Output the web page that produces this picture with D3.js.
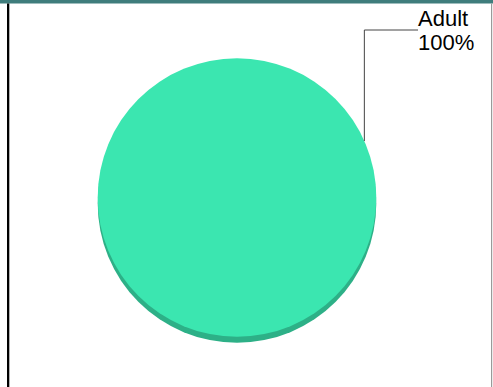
<!DOCTYPE html>
<html>
<head>
<meta charset="utf-8">
<script src="https://cdn.jsdelivr.net/npm/d3@7"></script>
<style>
  html, body { margin: 0; padding: 0; background: #fff; }
  svg { display: block; }
</style>
</head>
<body>
<svg id="chart" width="493" height="387"></svg>
<script>
const categories = ["Adult"];
const values = [100];
const colors = ["#3be6b0"];
const sideColors = ["#2db087"];

const W = 493, H = 387;
const svg = d3.select("#chart");

// frame
svg.append("rect").attr("x", 0).attr("y", 0).attr("width", W).attr("height", 3.5).attr("fill", "#3f7d7c");
svg.append("rect").attr("x", 7).attr("y", 3.5).attr("width", 2.3).attr("height", H - 3.5).attr("fill", "#000");
svg.append("rect").attr("x", 491).attr("y", 3.5).attr("width", 1.2).attr("height", H - 3.5).attr("fill", "#9a9a9a");

const cx = 237, cy = 197.5, r = 139.3, depth = 6;
const total = d3.sum(values);
const pie = d3.pie().sort(null).value(d => d)(values);
const arc = d3.arc().innerRadius(0).outerRadius(r);

const g = svg.append("g").attr("transform", `translate(${cx},${cy})`);
// side (depth)
g.selectAll("path.side").data(pie).join("path")
  .attr("class", "side")
  .attr("transform", `translate(0,${depth})`)
  .attr("d", arc)
  .attr("fill", (d, i) => sideColors[i]);
// top face
g.selectAll("path.top").data(pie).join("path")
  .attr("class", "top")
  .attr("d", arc)
  .attr("fill", (d, i) => colors[i]);

// label with leader line
const labelAngle = 66.1 * Math.PI / 180;
const px = r * Math.sin(labelAngle), py = -r * Math.cos(labelAngle);
const elbowY = 30 - cy;
const endX = 418 - cx;
g.append("path")
  .attr("d", `M${px},${py}V${elbowY}H${endX}`)
  .attr("fill", "none")
  .attr("stroke", "#444")
  .attr("stroke-width", 1);

const pct = d3.format(".0%");
const text = svg.append("text")
  .attr("x", 418).attr("y", 26)
  .attr("font-family", "Liberation Sans, Arial, sans-serif")
  .attr("font-size", 22)
  .attr("fill", "#000");
text.append("tspan").attr("x", 418).attr("y", 26).text(categories[0]);
text.append("tspan").attr("x", 418).attr("y", 50).text(pct(values[0] / total));
</script>
</body>
</html>
